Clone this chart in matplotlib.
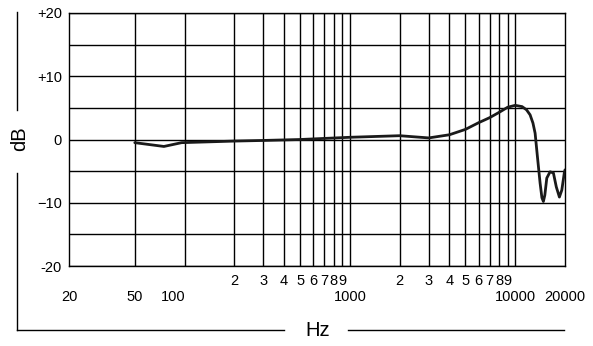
import matplotlib
matplotlib.use("Agg")
import matplotlib.pyplot as plt
from matplotlib.lines import Line2D

plt.rcParams['font.family'] = ['Liberation Sans', 'DejaVu Sans']

# Frequency response data
freq = [50, 75, 96, 200, 300, 500, 1000, 2000, 3000, 4000, 5000, 6000, 7000,
        8000, 9000, 10000, 11000, 11700, 12300, 12800, 13190, 13620, 14140,
        14500, 14800, 15100, 15520, 16250, 17020, 17720, 18500, 19130, 19800,
        20000]
db = [-0.5, -1.1, -0.5, -0.25, -0.15, 0.0, 0.35, 0.6, 0.25, 0.75, 1.6, 2.65,
      3.45, 4.3, 5.1, 5.4, 5.2, 4.7, 3.9, 2.6, 1.0, -2.7, -6.9, -9.2, -9.8,
      -8.8, -6.1, -5.1, -5.3, -7.5, -9.1, -8.0, -5.3, -4.8]

grid_freqs = [50, 100, 200, 300, 400, 500, 600, 700, 800, 900, 1000,
              2000, 3000, 4000, 5000, 6000, 7000, 8000, 9000, 10000]
row1_ticks = [200, 300, 400, 500, 600, 700, 800, 900,
              2000, 3000, 4000, 5000, 6000, 7000, 8000, 9000]
row1_labels = ["2", "3", "4", "5", "6", "7", "8", "9",
               "2", "3", "4", "5", "6", "7", "8", "9"]
row2_ticks = [20, 50, 100, 1000, 10000, 20000]
row2_labels = ["20", "50", "100", "1000", "10000", "20000"]
y_ticks = [-20, -10, 0, 10, 20]
y_labels = ["-20", "\u221210", "0", "+10", "+20"]
y_grid = [-20, -15, -10, -5, 0, 5, 10, 15, 20]

W, H = 593, 346
fig = plt.figure(figsize=(W / 100, H / 100), dpi=100)
ax = fig.add_axes([69 / W, (H - 266) / H, 496 / W, 253 / H])
ax.set_xscale('log')
ax.set_xlim(20, 20000)
ax.set_ylim(-20, 20)

for f in grid_freqs:
    ax.axvline(f, color='black', lw=1.0, zorder=1)
for y in y_grid:
    ax.axhline(y, color='black', lw=1.0, zorder=1)
for s in ax.spines.values():
    s.set_linewidth(1.0)

ax.plot(freq, db, color='#1a1a1a', lw=2.0, solid_joinstyle='round',
        solid_capstyle='round', zorder=3)

ax.set_xticks([])
ax.set_xticks([], minor=True)
ax.set_yticks(y_ticks)
ax.set_yticklabels(y_labels, fontsize=10.5)
ax.tick_params(axis='y', length=0, pad=5)

tr = ax.get_xaxis_transform()
for f, lab in zip(row1_ticks, row1_labels):
    ax.text(f, -0.059, lab, transform=tr, ha='center', va='center', fontsize=10.5)
offsets = {100: -8}
for f, lab in zip(row2_ticks, row2_labels):
    ax.annotate(lab, xy=(f, -0.1245), xycoords=tr,
                xytext=(offsets.get(f, 0), 0), textcoords='offset points',
                ha='center', va='center', fontsize=10.5)

# bracket lines around the chart (figure pixel coordinates)
def L(x0, y0, x1, y1):
    fig.add_artist(Line2D([x0 / W, x1 / W], [1 - y0 / H, 1 - y1 / H],
                          color='black', lw=1.0, transform=fig.transFigure))

L(17, 12, 17, 110)
L(17, 173, 17, 330)
L(17, 330, 284, 330)
L(348, 330, 564, 330)
fig.text(20 / W, 1 - 139 / H, "dB", rotation=90, ha='center', va='center',
         fontsize=14.5)
fig.text(318 / W, 1 - 330 / H, "Hz", ha='center', va='center', fontsize=14.5)

fig.savefig("out.png", dpi=100)
